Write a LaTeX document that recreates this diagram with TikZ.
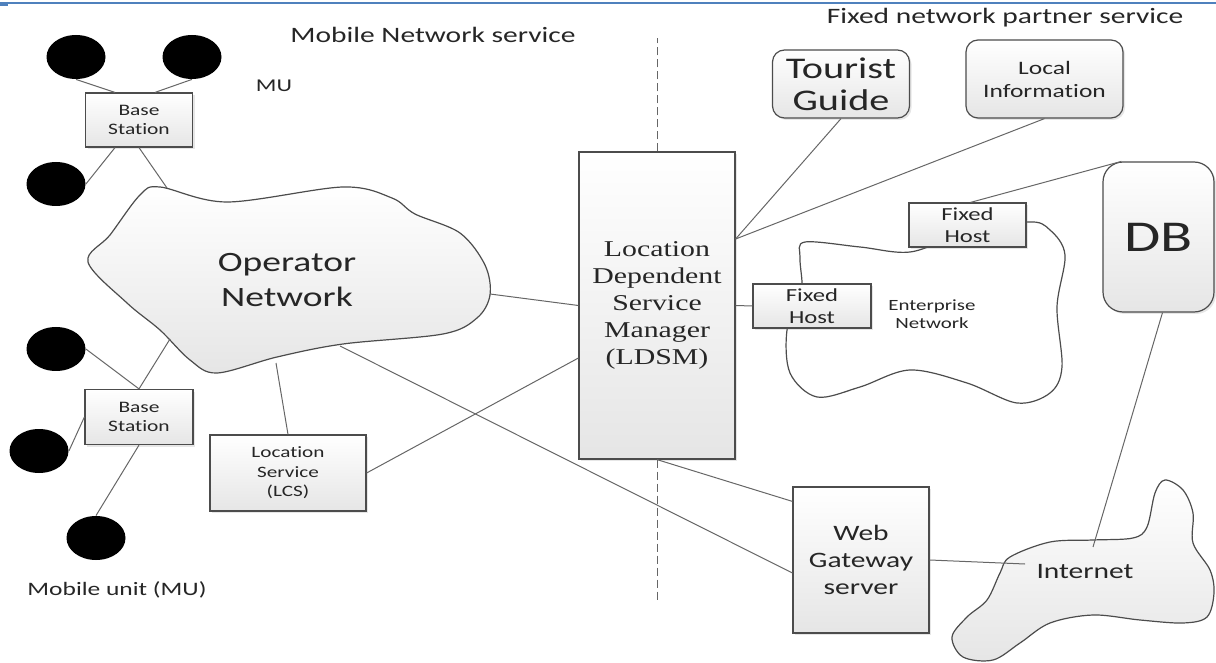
\documentclass[tikz,border=0pt]{standalone}
\usepackage{fontspec}
\setmainfont{Carlito}[FakeStretch=1.34, Ligatures=NoCommon]
\newfontfamily\ldsmfont{Liberation Serif}[FakeStretch=1.32]
\usepackage{xcolor}
\definecolor{wordblue}{RGB}{79,129,189}
\usetikzlibrary{shapes.geometric,shadows,calc}

\begin{document}
\begin{tikzpicture}[x=0.5pt,y=-0.5pt,
      every node/.style = {text=black!85},
      box/.style = {shape=rectangle, draw=black!70, line width=0.6pt,
        align=center, inner sep=0pt,
        top color=white, bottom color=black!10,
        drop shadow={opacity=0.2, shadow xshift=1pt, shadow yshift=-1pt}},
      rbox/.style = {box, rounded corners=6pt},
      mu/.style = {shape=ellipse, fill=black, minimum width=29.5pt,
        minimum height=22pt, inner sep=0pt},
      lbl/.style = {align=center, inner sep=0pt},
      link/.style = {draw=black!60, line width=0.5pt},
      cloud/.style = {draw=black!70, line width=0.6pt}]
  \useasboundingbox (0,0) rectangle (1216,663);
  \draw[wordblue, line width=0.7pt] (0,3) -- (1216,3);
  \fill[wordblue] (0,2) rectangle (8,6);

  % clouds
  \draw[cloud, top color=white, bottom color=black!10] plot[smooth cycle, tension=0.55] coordinates {
    (160,187) (227,202) (343,187) (392,198) (415,214) (460,233) (485,265)
    (490,295) (477,318) (443,334) (343,344) (277,357) (217,373) (190,360)
    (160,330) (127,303) (88,262) (110,235) (140,195)};
  \draw[cloud, fill=white] plot[smooth cycle, tension=0.55] coordinates {
    (805,242) (860,247) (910,252) (960,235) (1028,222) (1050,230) (1065,255)
    (1057,307) (1062,367) (1050,393) (1017,403) (967,383) (910,370) (860,387)
    (817,397) (790,373) (787,330) (800,300) (802,283) (800,257)};
  \draw[cloud, top color=white, bottom color=black!10] plot[smooth cycle, tension=0.55] coordinates {
    (1010,557) (1050,542) (1093,540) (1133,538) (1147,527) (1155,493) (1165,480)
    (1183,490) (1193,513) (1193,543) (1210,570) (1214,593) (1207,617) (1183,623)
    (1140,620) (1093,615) (1050,623) (1020,643) (993,660) (963,657) (952,637)
    (967,617) (987,600) (1000,573)};

  % mobile side
  \node[mu] (mu1) at (76,57) {};
  \node[mu] (mu2) at (192,57) {};
  \node[mu] (mu3) at (56,184) {};
  \node[mu] (mu4) at (56,349) {};
  \node[mu] (mu5) at (39,451) {};
  \node[mu] (mu6) at (96,538) {};
  \node[box, minimum width=53.5pt, minimum height=27pt,
    font=\fontsize{8}{9.5}\selectfont] (bs1) at (139,120) {Base\\Station};
  \node[box, minimum width=54pt, minimum height=27.5pt,
    font=\fontsize{8}{9.5}\selectfont] (bs2) at (139,417) {Base\\Station};
  \node[box, minimum width=78pt, minimum height=38pt,
    font=\fontsize{7.9}{9.75}\selectfont] (lcs) at (288,473) {Location\\Service\\(LCS)};
  \node[lbl, font=\fontsize{14}{17.5}\selectfont] (opnet) at (287,280) {Operator\\Network};

  \node[lbl, font=\fontsize{11}{13}\selectfont] (ttlmob) at (433,35) {Mobile Network service};
  \node[lbl, font=\fontsize{11}{13}\selectfont] (ttlfix) at (1005,18) {Fixed network partner service};
  \node[lbl, font=\fontsize{9}{11}\selectfont] (mulbl) at (274,86) {MU};
  \node[lbl, font=\fontsize{9.5}{11}\selectfont] (mobunit) at (117,590) {Mobile unit (MU)};

  % manager
  \node[box, minimum width=78pt, minimum height=153.5pt,
    font=\ldsmfont\fontsize{11.3}{13.5}\selectfont] (ldsm) at (657,305.5)
    {Location\\Dependent\\Service\\Manager\\(LDSM)};

  % fixed side
  \node[rbox, minimum width=68.5pt, minimum height=34pt,
    font=\fontsize{15}{16}\selectfont] (tour) at (841,84) {Tourist\\Guide};
  \node[rbox, minimum width=78.5pt, minimum height=39pt,
    font=\fontsize{9.5}{11.5}\selectfont] (local) at (1044.5,79) {Local\\Information};
  \node[rbox, rounded corners=10pt, minimum width=55.5pt, minimum height=75pt,
    font=\fontsize{22}{24}\selectfont] (db) at (1158.5,237) {DB};
  \node[box, minimum width=58.5pt, minimum height=22pt,
    font=\fontsize{9.2}{11}\selectfont] (fh1) at (967.5,225) {Fixed\\Host};
  \node[box, minimum width=59pt, minimum height=22pt,
    font=\fontsize{9.2}{11}\selectfont] (fh2) at (812,306) {Fixed\\Host};
  \node[lbl, font=\fontsize{7.8}{9}\selectfont] (entnet) at (932,314) {Enterprise\\Network};
  \node[box, minimum width=68pt, minimum height=73pt,
    font=\fontsize{11}{13.5}\selectfont] (web) at (861,560) {Web\\Gateway\\server};
  \node[lbl, font=\fontsize{11}{13}\selectfont] (inet) at (1085,572) {Internet};

  % cloud and line ends
  \coordinate (cA) at (167,188);
  \coordinate (cB) at (170,339);
  \coordinate (cC) at (276,363);
  \coordinate (cD) at (490,294);
  \coordinate (cE) at (340,346);
  \coordinate (iA) at (1025,564);
  \coordinate (iB) at (1093,547);
  \coordinate (dtop) at (657,38);
  \coordinate (dbot) at (657,600);

  \draw[link, dash pattern=on 4pt off 2pt] (ldsm.north) -- (dtop);
  \draw[link, dash pattern=on 4pt off 2pt] (ldsm.south) -- (dbot);

  \draw[link] (mu1.south) -- ($(bs1.north)+(-24,0)$);
  \draw[link] (mu2.south) -- ($(bs1.north)+(16,0)$);
  \draw[link] (mu3.east) -- ($(bs1.south)+(-24,0)$);
  \draw[link] (bs1.south) -- (cA);
  \draw[link] (mu4.east) -- (bs2.north);
  \draw[link] (bs2.north) -- (cB);
  \draw[link] (mu5.east) -- (bs2.west);
  \draw[link] (bs2.south) -- (mu6.north);
  \draw[link] (lcs.north) -- (cC);
  \draw[link] (lcs.east) -- ($(ldsm.west)+(0,52.5)$);
  \draw[link] (cD) -- (ldsm.west);
  \draw[link] (cE) -- ($(web.west)+(0,13)$);
  \draw[link] (ldsm.south) -- ($(web.north west)+(0,15)$);
  \draw[link] ($(ldsm.east)+(0,-66.5)$) -- (tour.south);
  \draw[link] ($(ldsm.east)+(0,-66.5)$) -- (local.south);
  \draw[link] (ldsm.east) -- (fh2.west);
  \draw[link] ($(fh1.north)+(3,0)$) -- ($(db.north west)+(19,0)$);
  \draw[link] ($(db.south)+(4,0)$) -- (iB);
  \draw[link] (web.east) -- (iA);
\end{tikzpicture}
\end{document}
